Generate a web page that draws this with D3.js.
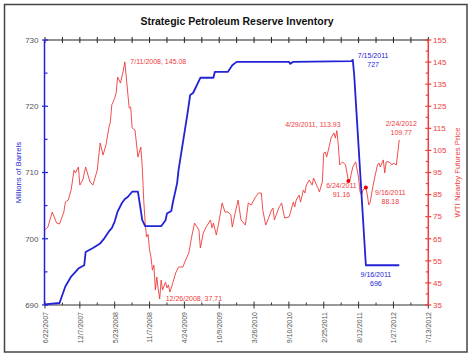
<!DOCTYPE html>
<html><head><meta charset="utf-8">
<script src="https://cdn.jsdelivr.net/npm/d3@7/dist/d3.min.js"></script>
<style>
html,body{margin:0;padding:0;background:#fff;}
svg{display:block;font-family:Arial,"Liberation Sans",sans-serif;}
</style></head><body>
<script>
// ---------- data ----------
const title = "Strategic Petroleum Reserve Inventory";
const leftTitle = "Millions of Barrels";
const rightTitle = "WTI Nearby Futures Price";
const xTickLabels = ["6/22/2007","12/7/2007","5/23/2008","11/7/2008","4/24/2009","10/9/2009","3/26/2010","9/10/2010","2/25/2011","8/12/2011","1/27/2012","7/13/2012"];
const leftTicks = [690,700,710,720,730];
const rightTicks = [35,45,55,65,75,85,95,105,115,125,135,145,155];

const sprDates = ["2007-06-22","2007-08-31","2007-09-28","2007-10-26","2007-11-16","2007-11-30","2007-12-28","2008-01-04","2008-02-08","2008-03-14","2008-04-04","2008-04-25","2008-05-09","2008-05-23","2008-06-06","2008-06-27","2008-07-11","2008-07-25","2008-08-15","2008-09-12","2008-10-03","2008-10-17","2009-01-02","2009-01-23","2009-01-30","2009-02-20","2009-02-27","2009-03-20","2009-03-27","2009-05-08","2009-05-22","2009-06-05","2009-07-10","2009-09-11","2009-09-18","2009-11-20","2009-12-11","2010-01-01","2010-09-10","2010-09-17","2010-10-01","2011-07-08","2011-07-15","2011-07-22","2011-07-29","2011-09-16","2012-02-24"];
const sprValues = [690.1,690.3,692.8,694.3,695.0,695.5,696.0,698.0,698.6,699.3,700.1,701.1,701.6,702.6,704.1,705.4,706.0,706.3,707.1,707.1,702.8,701.9,701.9,702.8,703.8,704.2,705.4,708.4,710.4,718.7,721.7,722.0,724.3,724.3,725.2,725.2,726.2,726.7,726.7,726.4,726.7,726.8,727.0,724.6,721.0,696.0,696.0];

const wtiDates = ["2007-06-22","2007-07-06","2007-07-27","2007-08-17","2007-08-31","2007-09-21","2007-09-28","2007-10-12","2007-10-26","2007-11-09","2007-11-16","2007-11-30","2007-12-07","2007-12-21","2008-01-04","2008-01-25","2008-02-08","2008-02-29","2008-03-14","2008-03-28","2008-04-11","2008-04-25","2008-05-02","2008-05-09","2008-05-23","2008-05-30","2008-06-06","2008-06-20","2008-07-04","2008-07-11","2008-07-25","2008-08-01","2008-08-08","2008-08-15","2008-08-29","2008-09-12","2008-09-26","2008-10-03","2008-10-10","2008-10-17","2008-10-24","2008-10-31","2008-11-07","2008-11-14","2008-11-21","2008-11-28","2008-12-05","2008-12-12","2008-12-19","2008-12-26","2009-01-02","2009-01-09","2009-01-23","2009-01-30","2009-02-06","2009-02-13","2009-02-20","2009-02-27","2009-03-13","2009-03-27","2009-04-17","2009-04-24","2009-05-15","2009-05-29","2009-06-12","2009-07-03","2009-07-10","2009-07-24","2009-08-07","2009-08-28","2009-09-04","2009-09-11","2009-09-25","2009-10-09","2009-10-23","2009-11-06","2009-11-20","2009-12-04","2009-12-11","2009-12-25","2010-01-08","2010-01-22","2010-02-12","2010-02-26","2010-03-12","2010-04-02","2010-04-16","2010-04-30","2010-05-07","2010-05-21","2010-06-04","2010-06-18","2010-06-25","2010-07-02","2010-07-23","2010-08-06","2010-08-20","2010-09-10","2010-09-17","2010-10-01","2010-10-08","2010-10-15","2010-10-29","2010-11-05","2010-11-19","2010-11-26","2010-12-03","2010-12-17","2010-12-31","2011-01-07","2011-01-21","2011-01-28","2011-02-04","2011-02-18","2011-02-25","2011-03-04","2011-03-11","2011-03-25","2011-04-01","2011-04-15","2011-04-22","2011-04-29","2011-05-06","2011-05-13","2011-05-27","2011-06-10","2011-06-24","2011-07-01","2011-07-15","2011-07-29","2011-08-12","2011-08-19","2011-08-26","2011-09-02","2011-09-16","2011-09-23","2011-09-30","2011-10-07","2011-10-21","2011-10-28","2011-11-11","2011-11-18","2011-11-25","2011-12-09","2011-12-16","2011-12-23","2012-01-06","2012-01-20","2012-01-27","2012-02-10","2012-02-24"];
const wtiValues = [69.0,70.3,77.1,72.1,71.7,77.1,81.6,82.5,87.1,96.1,94.8,97.5,89.3,91.6,97.5,90.7,89.3,96.1,108.4,102.9,107.5,115.2,117.9,125.6,128.7,131.0,138.2,135.5,141.4,145.08,131.0,124.2,124.7,115.2,114.2,102.0,106.5,97.5,82.5,72.0,65.8,67.0,60.0,56.7,50.8,53.0,41.8,47.7,42.0,37.71,46.3,41.8,45.4,42.7,44.1,40.9,42.7,45.0,49.5,52.2,52.2,54.0,58.5,65.8,72.1,69.0,60.8,67.6,70.3,73.5,69.9,72.1,66.7,73.5,81.2,77.1,77.1,75.8,70.3,76.7,82.5,73.5,71.2,81.2,80.3,83.9,85.7,85.7,78.0,71.2,74.4,78.0,78.9,73.5,78.9,81.2,74.4,74.8,76.7,81.6,79.4,82.5,84.8,81.6,87.1,85.7,89.3,91.6,89.3,92.5,89.3,88.0,86.2,90.7,103.8,104.3,102.0,107.5,110.6,112.9,110.6,113.93,107.5,98.4,99.8,98.4,91.16,91.6,97.5,99.8,92.5,86.2,84.8,87.1,88.18,84.8,80.3,81.6,89.3,92.5,98.4,99.3,97.5,100.7,94.8,99.8,99.8,98.4,99.3,98.4,109.77];

// annotations: date label, value, which series, whether a dot is drawn
const annDates  = ["7/11/2008","12/26/2008","4/29/2011","2/24/2012","6/24/2011","9/16/2011","7/15/2011","9/16/2011"];
const annValues = [145.08,37.71,113.93,109.77,91.16,88.18,727,696];
const annSeries = ["wti","wti","wti","wti","wti","wti","spr","spr"];
const annDot    = [false,false,false,false,true,true,false,false];

// ---------- layout ----------
const W = 474, H = 358;
const X0 = 45, X1 = 428.3, YT = 40, YB = 305;
const RED = "#ee3b3b", BLUE = "#2222d6", GRAY = "#555";
const parse = d3.timeParse("%Y-%m-%d");
const parseUS = d3.timeParse("%m/%d/%Y");

const svg = d3.select("body").append("svg").attr("width", W).attr("height", H);

const x = d3.scaleTime().domain([parseUS(xTickLabels[0]), parseUS(xTickLabels[xTickLabels.length-1])]).range([X0, X1]);
const yL = d3.scaleLinear().domain([690,730]).range([YB, YT]);
const yR = d3.scaleLinear().domain([35,155]).range([YB, YT]);

// outer frame
svg.append("rect").attr("x",4.5).attr("y",4.5).attr("width",462.5).attr("height",347.5)
  .attr("fill","#fff").attr("stroke","#444").attr("stroke-width",1.5);

// title
svg.append("text").attr("x",237).attr("y",24.5).attr("text-anchor","middle")
  .attr("font-size",10.5).attr("font-weight","bold").attr("fill","#111").text(title);

// ----- x axes (bottom & top) -----
const majorDates = xTickLabels.map(parseUS);
const minorDates = majorDates.slice(0,-1).map(d => d3.timeDay.offset(d, 84));

const gx = svg.append("g").attr("transform",`translate(0,${YB})`)
  .call(d3.axisBottom(x).tickValues(majorDates).tickSize(0).tickFormat((d,i)=>xTickLabels[i]));
gx.select(".domain").remove();
gx.selectAll("text").attr("transform","rotate(-90)").attr("text-anchor","end")
  .attr("x",-7).attr("y",0).attr("dy","0.35em").attr("font-size",7).attr("fill",GRAY);

// bottom line and ticks
svg.append("line").attr("x1",X0).attr("x2",X1).attr("y1",YB).attr("y2",YB).attr("stroke","#333").attr("stroke-width",1.2);
svg.append("line").attr("x1",X0).attr("x2",X1).attr("y1",YT).attr("y2",YT).attr("stroke","#222").attr("stroke-width",1.2);
majorDates.forEach(d=>{
  const px = x(d);
  svg.append("line").attr("x1",px).attr("x2",px).attr("y1",YB-3.5).attr("y2",YB+3.5).attr("stroke","#333");
  svg.append("line").attr("x1",px).attr("x2",px).attr("y1",YT-3).attr("y2",YT+3).attr("stroke","#222");
});
minorDates.forEach(d=>{
  const px = x(d);
  svg.append("line").attr("x1",px).attr("x2",px).attr("y1",YB-2.5).attr("y2",YB).attr("stroke","#333");
  svg.append("line").attr("x1",px).attr("x2",px).attr("y1",YT-3).attr("y2",YT+3).attr("stroke","#222");
});

// ----- left axis -----
svg.append("line").attr("x1",X0-0.5).attr("x2",X0-0.5).attr("y1",YT).attr("y2",YB).attr("stroke",BLUE).attr("stroke-width",1.5);
leftTicks.forEach(v=>{
  const py = yL(v);
  svg.append("line").attr("x1",X0-3).attr("x2",X0+3).attr("y1",py).attr("y2",py).attr("stroke",BLUE).attr("stroke-width",1.2);
  svg.append("text").attr("x",38.5).attr("y",py).attr("dy","0.35em").attr("text-anchor","end")
    .attr("font-size",8).attr("fill",GRAY).text(v);
});
leftTicks.slice(0,-1).forEach(v=>{
  const py = yL(v+5);
  svg.append("line").attr("x1",X0-0.5).attr("x2",X0+2.5).attr("y1",py).attr("y2",py).attr("stroke",BLUE).attr("stroke-width",1.2);
});
svg.append("text").attr("transform",`translate(18.5,${(YT+YB)/2}) rotate(-90)`).attr("text-anchor","middle")
  .attr("dy","0.35em").attr("font-size",7.8).attr("fill",BLUE).text(leftTitle);

// ----- right axis -----
svg.append("line").attr("x1",X1).attr("x2",X1).attr("y1",YT).attr("y2",YB).attr("stroke",RED).attr("stroke-width",1.5);
rightTicks.forEach(v=>{
  const py = yR(v);
  svg.append("line").attr("x1",X1-3).attr("x2",X1+3).attr("y1",py).attr("y2",py).attr("stroke",RED).attr("stroke-width",1.2);
  svg.append("text").attr("x",433).attr("y",py).attr("dy","0.35em").attr("text-anchor","start")
    .attr("font-size",8).attr("fill",RED).text(v);
});
rightTicks.slice(0,-1).forEach(v=>{
  const py = yR(v+5);
  svg.append("line").attr("x1",X1-2.5).attr("x2",X1).attr("y1",py).attr("y2",py).attr("stroke",RED).attr("stroke-width",1.2);
});
svg.append("text").attr("transform",`translate(457,${(YT+YB)/2}) rotate(-90)`).attr("text-anchor","middle")
  .attr("dy","0.35em").attr("font-size",7.8).attr("fill",RED).text(rightTitle);

// ----- series -----
const wti = wtiDates.map((d,i)=>({d:parse(d), v:wtiValues[i]}));
const spr = sprDates.map((d,i)=>({d:parse(d), v:sprValues[i]}));

svg.append("path").datum(wti).attr("fill","none").attr("stroke",RED).attr("stroke-width",0.9)
  .attr("stroke-linejoin","round")
  .attr("d", d3.line().x(p=>x(p.d)).y(p=>yR(p.v)));
svg.append("path").datum(spr).attr("fill","none").attr("stroke",BLUE).attr("stroke-width",1.8)
  .attr("stroke-linejoin","round")
  .attr("d", d3.line().x(p=>x(p.d)).y(p=>yL(p.v)));

// ----- annotations -----
// layout per annotation: [dx, dy of first line baseline, anchor, two-line?]
const annLayout = [
  [5.5, 2.5, "start", false],
  [6, 1.8, "start", false],
  [-24, -3.5, "middle", false],
  [2, -13.5, "middle", true],
  [-7, 7.5, "middle", true],
  [24.5, 7, "middle", true],
  [20.3, -1.5, "middle", true],
  [10, 11.5, "middle", true]
];
annDates.forEach((ds,i)=>{
  const isW = annSeries[i]==="wti";
  const px = x(parseUS(ds)), py = isW ? yR(annValues[i]) : yL(annValues[i]);
  const col = isW ? RED : BLUE;
  const valStr = isW ? annValues[i].toFixed(2) : String(annValues[i]);
  const [dx,dy,anchor,two] = annLayout[i];
  if (two){
    svg.append("text").attr("x",px+dx).attr("y",py+dy).attr("text-anchor",anchor)
      .attr("font-size",7).attr("fill",col).text(ds);
    svg.append("text").attr("x",px+dx).attr("y",py+dy+9).attr("text-anchor",anchor)
      .attr("font-size",7).attr("fill",col).text(valStr);
  } else {
    svg.append("text").attr("x",px+dx).attr("y",py+dy).attr("text-anchor",anchor)
      .attr("font-size",7).attr("fill",col).text(ds + ", " + valStr);
  }
  if (annDot[i]){
    svg.append("circle").attr("cx",px).attr("cy",py).attr("r",2).attr("fill","#e00");
  }
});
</script>
</body></html>
